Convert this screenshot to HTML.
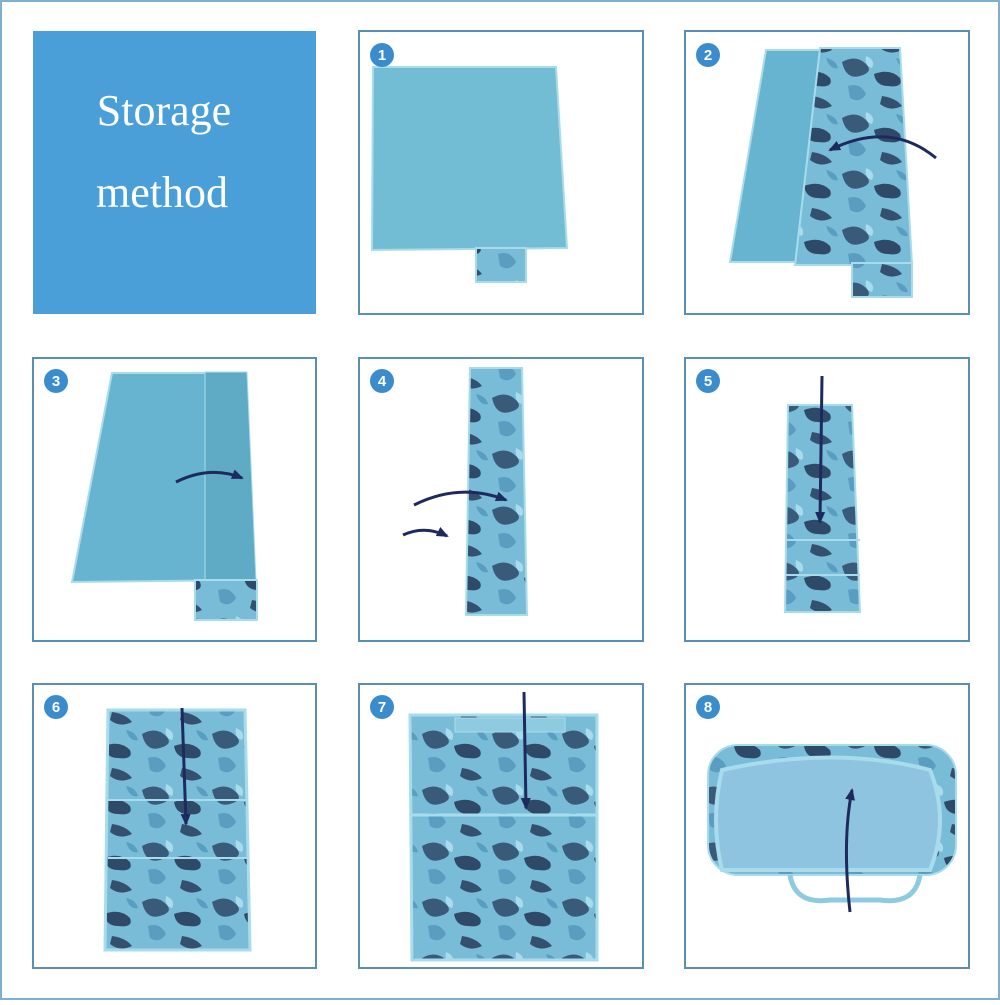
<!DOCTYPE html>
<html><head><meta charset="utf-8"><style>
html,body{margin:0;padding:0;background:#fff;}
body{width:1000px;height:1000px;position:relative;overflow:hidden;font-family:"Liberation Serif",serif;}
</style></head><body>
<svg width="1000" height="1000" viewBox="0 0 1000 1000" xmlns="http://www.w3.org/2000/svg">
<defs>
<pattern id="camo" width="70" height="56" patternUnits="userSpaceOnUse">
<rect width="70" height="56" fill="#78bcd8"/>
<path d="M2 6 q14-8 24 2 q8 8 -6 12 q-14 4 -18-14z" fill="#3a5a7a"/>
<path d="M34 18 q16-6 26 4 q4 10 -12 8 q-12 0 -14-12z" fill="#2f4a68"/>
<path d="M8 30 q12 -4 18 8 q-6 10 -16 4z" fill="#5a9dc0"/>
<path d="M42 40 q14 2 20 10 q-12 6 -22 -2z" fill="#34506e"/>
<path d="M26 0 q10 4 6 12 q-8 -2 -6 -12z" fill="#a8dcec"/>
<path d="M56 2 q10 2 12 10 q-8 2 -12 -10z" fill="#5a9dc0"/>
</pattern>
<marker id="ah" markerUnits="userSpaceOnUse" markerWidth="14" markerHeight="14" refX="10" refY="7" orient="auto"><path d="M0 2 L12 7 L0 12z" fill="#1e2a5e"/></marker>
</defs>
<rect x="1" y="1" width="998" height="998" fill="none" stroke="#7fb0d0" stroke-width="2"/>
<g fill="none" stroke="#5a8fb0" stroke-width="2">
<rect x="359" y="31" width="284" height="283"/><rect x="685" y="31" width="284" height="283"/>
<rect x="33" y="358" width="283" height="283"/><rect x="359" y="358" width="284" height="283"/><rect x="685" y="358" width="284" height="283"/>
<rect x="33" y="684" width="283" height="284"/><rect x="359" y="684" width="284" height="284"/><rect x="685" y="684" width="284" height="284"/>
</g>
<rect x="33" y="31" width="283" height="283" fill="#4b9fd8"/>
<text x="164" y="125" fill="#fff" font-size="44" text-anchor="middle" font-family="Liberation Serif, serif">Storage</text>
<text x="162" y="207" fill="#fff" font-size="44" text-anchor="middle" font-family="Liberation Serif, serif">method</text>
<!-- panel1 -->
<polygon points="373,67 556,67 567,248 372,250" fill="#72bdd3" stroke="#a8dcec" stroke-width="2"/>
<rect x="476" y="248" width="50" height="34" fill="url(#camo)" stroke="#a8dcec" stroke-width="2"/>
<!-- panel2 -->
<polygon points="766,50 822,50 818,262 730,262" fill="#66b4cf" stroke="#a8dcec" stroke-width="2"/>
<polygon points="820,48 900,48 912,265 795,265" fill="url(#camo)" stroke="#a8dcec" stroke-width="2"/>
<rect x="852" y="263" width="60" height="34" fill="url(#camo)" stroke="#a8dcec" stroke-width="2"/>
<path d="M936 158 Q890 120 830 150" stroke="#1e2a5e" stroke-width="3" fill="none" marker-end="url(#ah)"/>
<!-- panel3 -->
<polygon points="112,373 245,373 253,580 72,582" fill="#66b4cf" stroke="#a8dcec" stroke-width="2"/>
<polygon points="205,372 247,372 256,580 205,582" fill="#5fabc6" stroke="#a8dcec" stroke-width="1"/>
<rect x="195" y="580" width="62" height="40" fill="url(#camo)" stroke="#a8dcec" stroke-width="2"/>
<path d="M176 482 Q210 465 242 478" stroke="#1e2a5e" stroke-width="3" fill="none" marker-end="url(#ah)"/>
<!-- panel4 -->
<polygon points="470,368 522,368 527,615 466,615" fill="url(#camo)" stroke="#a8dcec" stroke-width="2"/>
<path d="M414 505 Q460 482 506 500" stroke="#1e2a5e" stroke-width="3" fill="none" marker-end="url(#ah)"/>
<path d="M403 535 Q425 525 447 536" stroke="#1e2a5e" stroke-width="3" fill="none" marker-end="url(#ah)"/>
<!-- panel5 -->
<polygon points="788,405 852,405 860,612 785,612" fill="url(#camo)" stroke="#a8dcec" stroke-width="2"/>
<line x1="785" y1="540" x2="860" y2="540" stroke="#a8dcec" stroke-width="2"/>
<line x1="785" y1="575" x2="860" y2="575" stroke="#a8dcec" stroke-width="2"/>
<path d="M822 376 L820 522" stroke="#1e2a5e" stroke-width="3" fill="none" marker-end="url(#ah)"/>
<!-- panel6 -->
<polygon points="108,710 245,710 250,950 105,950" fill="url(#camo)" stroke="#a8dcec" stroke-width="3"/>
<line x1="108" y1="800" x2="248" y2="800" stroke="#a8dcec" stroke-width="2"/>
<line x1="108" y1="858" x2="248" y2="858" stroke="#a8dcec" stroke-width="2"/>
<path d="M182 708 L186 824" stroke="#1e2a5e" stroke-width="3" fill="none" marker-end="url(#ah)"/>
<!-- panel7 -->
<polygon points="410,715 597,715 597,960 412,960" fill="url(#camo)" stroke="#a8dcec" stroke-width="3"/>
<line x1="410" y1="815" x2="597" y2="815" stroke="#a8dcec" stroke-width="3"/>
<rect x="455" y="718" width="110" height="14" fill="#8fcbe0" stroke="#a8dcec"/>
<path d="M524 692 L526 808" stroke="#1e2a5e" stroke-width="3" fill="none" marker-end="url(#ah)"/>
<!-- panel8 -->
<rect x="708" y="745" width="248" height="130" rx="30" fill="url(#camo)" stroke="#a8dcec" stroke-width="2"/>
<path d="M722 770 Q835 745 930 770 Q950 820 930 870 L722 870 Q710 820 722 770z" fill="#8fc4e0" stroke="#a8dcec" stroke-width="4"/>
<path d="M790 875 Q795 905 830 900 L880 900 Q915 905 920 875" fill="none" stroke="#8fcbe0" stroke-width="5"/>
<path d="M850 912 Q842 840 852 790" stroke="#1e2a5e" stroke-width="3" fill="none" marker-end="url(#ah)"/>
<!-- numbers -->
<g fill="#3a8ccc">
<circle cx="382" cy="55" r="12"/><circle cx="708" cy="55" r="12"/>
<circle cx="56" cy="381" r="12"/><circle cx="382" cy="381" r="12"/><circle cx="708" cy="381" r="12"/>
<circle cx="56" cy="707" r="12"/><circle cx="382" cy="707" r="12"/><circle cx="708" cy="707" r="12"/>
</g>
<g fill="#fff" font-family="Liberation Sans, sans-serif" font-size="15" font-weight="bold" text-anchor="middle">
<text x="382" y="60">1</text><text x="708" y="60">2</text>
<text x="56" y="386">3</text><text x="382" y="386">4</text><text x="708" y="386">5</text>
<text x="56" y="712">6</text><text x="382" y="712">7</text><text x="708" y="712">8</text>
</g>
</svg>
</body></html>
